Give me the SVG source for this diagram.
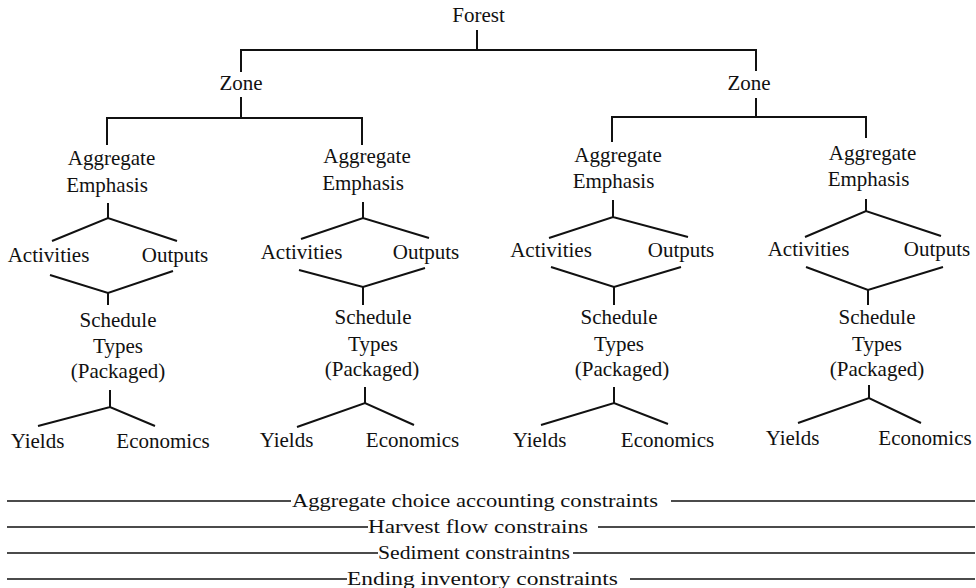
<svg xmlns="http://www.w3.org/2000/svg" width="976" height="588" viewBox="0 0 976 588">
<style>
  .t { font-family: "Liberation Serif", "Times New Roman", serif; font-size: 21px; fill: #111; text-anchor: middle; }
  .b { font-family: "Liberation Serif", "Times New Roman", serif; font-size: 19px; fill: #111; }
  .c { stroke: #111; stroke-width: 2; fill: none; stroke-linejoin: miter; }
  .r { stroke: #111; stroke-width: 1.6; fill: none; }
</style>
<rect width="976" height="588" fill="#fff"/>

<g id="connectors">
  <!-- Forest to zones -->
  <path class="c" d="M477 30 V50 M240 50 H757 M241 50 V72 M756 50 V71"/>
  <!-- Zone left -->
  <path class="c" d="M241 97 V118 M106 118 H363 M107 118 V145 M362 118 V145"/>
  <!-- Zone right -->
  <path class="c" d="M756 98 V117 M611 117 H867 M612 117 V142 M866 117 V138"/>
  <!-- Group 1 -->
  <path class="c" d="M108 203 V218 M52 241 L108 218 L177 241"/>
  <path class="c" d="M50 275 L108 293 L173 271 M108 293 V305"/>
  <path class="c" d="M110 390 V407 M38 426 L110 407 L155 426"/>
  <!-- Group 2 -->
  <path class="c" d="M363 202 V218 M301 239 L363 218 L429 238"/>
  <path class="c" d="M299 270 L363 287 L425 268 M363 287 V305"/>
  <path class="c" d="M365 387 V403 M297 427 L365 403 L414 425"/>
  <!-- Group 3 -->
  <path class="c" d="M613 200 V217 M549 238 L613 217 L688 237"/>
  <path class="c" d="M551 267 L614 287 L681 267 M614 287 V305"/>
  <path class="c" d="M614 387 V403 M541 425 L614 403 L668 424"/>
  <!-- Group 4 -->
  <path class="c" d="M866 199 V211 M805 237 L866 211 L941 236"/>
  <path class="c" d="M806 267 L868 290 L943 267 M868 290 V305"/>
  <path class="c" d="M869 385 V398 M798 423 L869 398 L921 423"/>
</g>

<g id="forest"><text class="t" x="478.5" y="22">Forest</text></g>
<g id="zone-left"><text class="t" x="241" y="90">Zone</text></g>
<g id="zone-right"><text class="t" x="749" y="90">Zone</text></g>

<g id="agg-1"><text class="t" x="111.5" y="165">Aggregate</text><text class="t" x="107" y="192">Emphasis</text></g>
<g id="act-1"><text class="t" x="48.5" y="262">Activities</text></g>
<g id="out-1"><text class="t" x="175" y="262">Outputs</text></g>
<g id="sched-1"><text class="t" x="118" y="327">Schedule</text><text class="t" x="118" y="353">Types</text><text class="t" x="118" y="378">(Packaged)</text></g>
<g id="yields-1"><text class="t" x="37.5" y="448">Yields</text></g>
<g id="econ-1"><text class="t" x="163" y="448">Economics</text></g>

<g id="agg-2"><text class="t" x="367" y="163">Aggregate</text><text class="t" x="363" y="190">Emphasis</text></g>
<g id="act-2"><text class="t" x="301.5" y="259">Activities</text></g>
<g id="out-2"><text class="t" x="426" y="259">Outputs</text></g>
<g id="sched-2"><text class="t" x="373" y="324">Schedule</text><text class="t" x="373" y="351">Types</text><text class="t" x="372" y="376">(Packaged)</text></g>
<g id="yields-2"><text class="t" x="286.5" y="447">Yields</text></g>
<g id="econ-2"><text class="t" x="412.5" y="447">Economics</text></g>

<g id="agg-3"><text class="t" x="618" y="162">Aggregate</text><text class="t" x="613.5" y="188">Emphasis</text></g>
<g id="act-3"><text class="t" x="551" y="257">Activities</text></g>
<g id="out-3"><text class="t" x="681" y="257">Outputs</text></g>
<g id="sched-3"><text class="t" x="619" y="324">Schedule</text><text class="t" x="619" y="351">Types</text><text class="t" x="622" y="376">(Packaged)</text></g>
<g id="yields-3"><text class="t" x="539.5" y="447">Yields</text></g>
<g id="econ-3"><text class="t" x="667.5" y="447">Economics</text></g>

<g id="agg-4"><text class="t" x="872.5" y="160">Aggregate</text><text class="t" x="868.5" y="186">Emphasis</text></g>
<g id="act-4"><text class="t" x="808.5" y="256">Activities</text></g>
<g id="out-4"><text class="t" x="937" y="256">Outputs</text></g>
<g id="sched-4"><text class="t" x="877" y="324">Schedule</text><text class="t" x="877" y="351">Types</text><text class="t" x="877" y="376">(Packaged)</text></g>
<g id="yields-4"><text class="t" x="792.5" y="445">Yields</text></g>
<g id="econ-4"><text class="t" x="925" y="445">Economics</text></g>

<g id="constraint-aggregate">
  <path class="r" d="M7 501 H291 M671 501 H975"/>
  <text class="b" x="292" y="507" textLength="366" lengthAdjust="spacingAndGlyphs">Aggregate choice accounting constraints</text>
</g>
<g id="constraint-harvest">
  <path class="r" d="M7 527 H368 M598 527 H975"/>
  <text class="b" x="368" y="533" textLength="220" lengthAdjust="spacingAndGlyphs">Harvest flow constrains</text>
</g>
<g id="constraint-sediment">
  <path class="r" d="M7 553 H378 M573 553 H975"/>
  <text class="b" x="378" y="559" textLength="192" lengthAdjust="spacingAndGlyphs">Sediment constraintns</text>
</g>
<g id="constraint-ending">
  <path class="r" d="M7 579 H347 M630 579 H975"/>
  <text class="b" x="347" y="585" textLength="271" lengthAdjust="spacingAndGlyphs">Ending inventory constraints</text>
</g>
</svg>
